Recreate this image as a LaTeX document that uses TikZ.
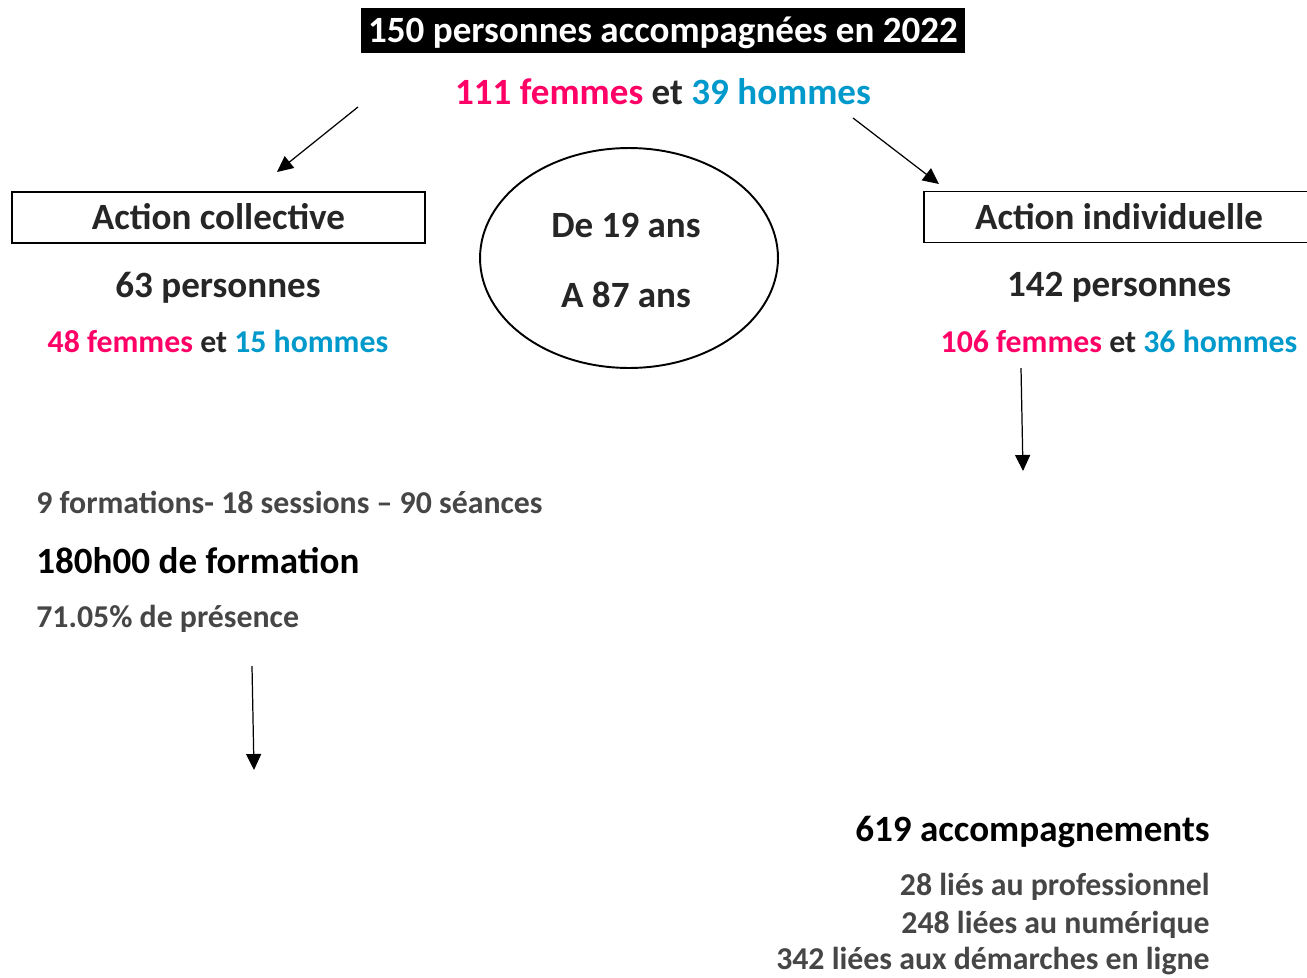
\documentclass[tikz,border=0pt]{standalone}
\usepackage{fontspec}
\setmainfont{Carlito}
\usepackage{xcolor}
\usetikzlibrary{arrows.meta,shapes.geometric}
\definecolor{femrose}{RGB}{255,0,102}
\definecolor{homblue}{RGB}{0,153,204}
\definecolor{txtdark}{RGB}{38,38,38}
\definecolor{txtgrey}{RGB}{70,70,70}

\begin{document}
\begin{tikzpicture}[x=0.02cm, y=-0.02cm,
  bigtxt/.style={font=\fontsize{21.1}{25}\selectfont\bfseries, inner sep=0pt, text height=0.48cm, text depth=0pt},
  smalltxt/.style={font=\fontsize{18.1}{22}\selectfont\bfseries, inner sep=0pt, text height=0.41cm, text depth=0pt},
  actbox/.style={draw, line width=1.1pt, minimum height=1.02cm, text=txtdark},
  arr/.style={-{Triangle[length=0.32cm, width=0.3cm]}, line width=0.7pt}]
  \useasboundingbox (0,0) rectangle (1307,977);
  \clip (0,0) rectangle (1307,977);
  \node[bigtxt, fill=black, text=white, minimum width=12.08cm, minimum height=0.9cm] (t) at (663,30.5) {150 personnes accompagnées en 2022};
  \node[bigtxt] (g) at (663,93) {\textcolor{femrose}{111 femmes} \textcolor{txtdark}{et} \textcolor{homblue}{39 hommes}};
  \node[bigtxt, actbox, minimum width=8.26cm] (ac) at (218.5,217.5) {Action collective};
  \node[bigtxt, actbox, minimum width=7.8cm] (ai) at (1119,217) {Action individuelle};
  \node[bigtxt, text=txtdark] (acn) at (218,285) {63 personnes};
  \node[smalltxt] (acg) at (218,342) {\textcolor{femrose}{48 femmes} \textcolor{txtdark}{et} \textcolor{homblue}{15 hommes}};
  \node[bigtxt, text=txtdark] (ain) at (1119,284) {142 personnes};
  \node[smalltxt] (aig) at (1119,342) {\textcolor{femrose}{106 femmes} \textcolor{txtdark}{et} \textcolor{homblue}{36 hommes}};
  \node[draw, ellipse, line width=1.1pt, minimum width=5.96cm, minimum height=4.4cm] (age) at (629,258) {};
  \node[bigtxt, text=txtdark] (de) at (626,225) {De 19 ans};
  \node[bigtxt, text=txtdark] (a) at (626,295) {A 87 ans};
  \node[smalltxt, anchor=west, text=txtgrey] (f) at (36,503) {9 formations- 18 sessions – 90 séances};
  \node[bigtxt, anchor=west] (h) at (36,561) {180h00 de formation};
  \node[smalltxt, anchor=west, text=txtgrey] (p) at (36,617) {71.05\% de présence};
  \node[bigtxt, anchor=east] (acc) at (1210,829) {619 accompagnements};
  \node[smalltxt, anchor=east, text=txtgrey] (pro) at (1210,885) {28 liés au professionnel};
  \node[smalltxt, anchor=east, text=txtgrey] (num) at (1210,923) {248 liées au numérique};
  \node[smalltxt, anchor=east, text=txtgrey] (dem) at (1210,959) {342 liées aux démarches en ligne};
  \coordinate (l1) at (358,107); \coordinate (l2) at (277,172);
  \coordinate (r1) at (853,118); \coordinate (r2) at (939,184);
  \coordinate (d1) at (1021,368); \coordinate (d2) at (1023,471);
  \coordinate (c1) at (252,666); \coordinate (c2) at (254,770);
  \draw[arr] (l1) -- (l2); \draw[arr] (r1) -- (r2); \draw[arr] (d1) -- (d2); \draw[arr] (c1) -- (c2);
\end{tikzpicture}
\end{document}
